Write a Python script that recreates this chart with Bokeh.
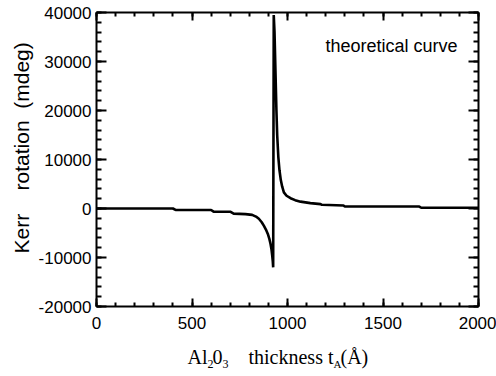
import math
from bokeh.plotting import figure
from bokeh.models import (LinearAxis, SingleIntervalTicker, Range1d, Label,
                          CustomJSTickFormatter)
from bokeh.embed import file_html
from bokeh.resources import INLINE

# Data
thickness = [0, 100, 200, 300, 400, 414, 500, 600, 613, 700, 718, 780, 815, 835,
             850, 865, 876, 887, 897, 905, 911, 916, 920, 923, 925, 928, 932, 937,
             942, 946, 952, 958, 965, 972, 981, 995, 1016, 1040, 1068, 1120, 1173,
             1180, 1293, 1300, 1690, 1700, 2000]
kerr = [0, 0, 0, 0, 0, -300, -300, -300, -650, -650, -1050, -1150, -1300, -1650,
        -2100, -2800, -3500, -4300, -5200, -6200, -7200, -8300, -9600, -10800,
        -12000, 39500, 36000, 28000, 20000, 15000, 10500, 7800, 5800, 4500, 3300,
        2600, 2100, 1700, 1400, 1100, 900, 750, 600, 400, 400, 150, 150]

x_min, x_max = 0, 2000
y_min, y_max = -20000, 40000
x_ticks_interval = 500
y_ticks_interval = 10000
annotation = "theoretical curve"
y_label = "Kerr\u00a0\u00a0\u00a0\u00a0rotation\u00a0\u00a0(mdeg)"

# ---- layout (pixel geometry of the canvas) ----
W, H = 496, 376
FL, FR, FT, FB = 96, 478, 12, 306   # plot box edges in canvas pixels


def px_x(px):
    return x_min + (px - FL) / (FR - FL) * (x_max - x_min)


def px_y(py):
    return y_min + (FB - py) / (FB - FT) * (y_max - y_min)


p = figure(width=W, height=H, output_backend="svg", toolbar_location=None,
           x_range=Range1d(px_x(0), px_x(W)), y_range=Range1d(px_y(H), px_y(0)),
           min_border=0)
p.background_fill_color = "white"
p.border_fill_color = "white"
p.grid.visible = False
p.outline_line_color = None

p.line(thickness, kerr, line_color="black", line_width=2.6)

xt = SingleIntervalTicker(interval=x_ticks_interval, num_minor_ticks=5)
yt = SingleIntervalTicker(interval=y_ticks_interval, num_minor_ticks=5)


def style(ax, tick_major, tick_minor, show_labels):
    ax.axis_line_color = "black"
    ax.axis_line_width = 2
    ax.major_tick_in = tick_major
    ax.major_tick_out = 0
    ax.minor_tick_in = tick_minor
    ax.minor_tick_out = 0
    ax.major_tick_line_width = 2
    ax.minor_tick_line_width = 2
    ax.major_tick_line_color = "black"
    ax.minor_tick_line_color = "black"
    if show_labels:
        ax.formatter = CustomJSTickFormatter(code="return tick.toFixed(0)")
        ax.major_label_text_font = "Liberation Sans"
        ax.major_label_text_font_size = "17px"
        ax.major_label_text_color = "black"
    else:
        ax.formatter = CustomJSTickFormatter(code="return ''")
        ax.major_label_text_color = None


xa = p.xaxis[0]
ya = p.yaxis[0]
xa.ticker = xt
ya.ticker = yt
xa.fixed_location = y_min
ya.fixed_location = x_min
xa.bounds = (x_min, x_max)
ya.bounds = (y_min, y_max)
style(xa, 8, 4, True)
style(ya, 10, 5, True)
xa.major_label_standoff = 10
ya.major_label_standoff = 5

top = LinearAxis(ticker=xt, fixed_location=y_max, bounds=(x_min, x_max))
style(top, 8, 4, False)
p.add_layout(top, "above")
right = LinearAxis(ticker=yt, fixed_location=x_max, bounds=(y_min, y_max))
style(right, 10, 5, False)
p.add_layout(right, "right")

# annotation inside the box
p.add_layout(Label(x=px_x(457), y=px_y(45), text=annotation, text_align="right",
                   text_baseline="alphabetic", text_font="Liberation Sans",
                   text_font_size="18px", text_color="black"))

# y-axis title (rotated)
p.add_layout(Label(x=px_x(21), y=px_y(253), text=y_label, angle=math.pi / 2,
                   text_align="left", text_baseline="alphabetic",
                   text_font="Liberation Sans", text_font_size="21px",
                   text_color="black"))

# x-axis title pieces (serif, with subscripts)
pieces = [
    ("Al", 187, 356, "20px"),
    ("2", 207, 363, "12px"),
    ("0", 212, 356, "20px"),
    ("3", 222, 363, "12px"),
    ("thickness t", 248, 356, "20px"),
    ("A", 333, 363, "11px"),
    ("(\u00c5)", 340, 356, "20px"),
]
for txt, px, py, fs in pieces:
    p.add_layout(Label(x=px_x(px), y=px_y(py), text=txt, text_align="left",
                       text_baseline="alphabetic", text_font="Liberation Serif",
                       text_font_size=fs, text_color="black"))

open("out.html", "w").write(file_html(p, INLINE))
